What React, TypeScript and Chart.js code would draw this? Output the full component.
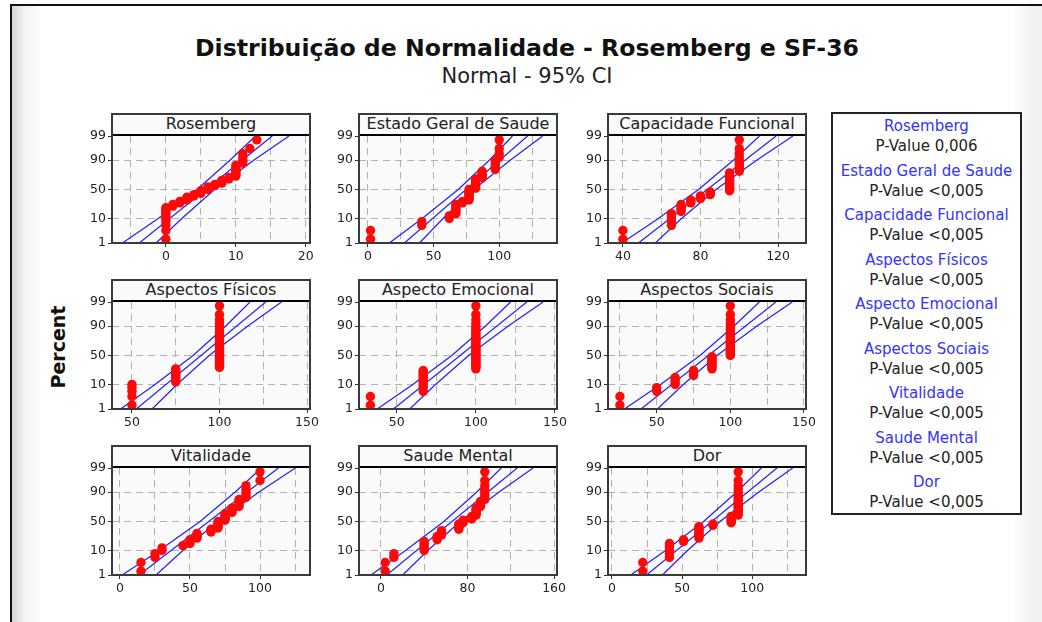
import React, { useEffect, useRef } from 'react';
import Chart from 'chart.js/auto';

// ---------- text ----------
const TITLE = 'Distribuição de Normalidade - Rosemberg e SF-36';
const SUBTITLE = 'Normal - 95% CI';
const Y_LABEL = 'Percent';
const panelTitles = ['Rosemberg', 'Estado Geral de Saude', 'Capacidade Funcional', 'Aspectos Físicos', 'Aspecto Emocional', 'Aspectos Sociais', 'Vitalidade', 'Saude Mental', 'Dor'];
const pValueTexts = ['P-Value 0,006', 'P-Value <0,005', 'P-Value <0,005', 'P-Value <0,005', 'P-Value <0,005', 'P-Value <0,005', 'P-Value <0,005', 'P-Value <0,005', 'P-Value <0,005'];

// ---------- probability axis ----------
const yTickPercents = [1, 10, 50, 90, 99];
const bandPercents = [1, 10, 50, 90, 99];
const fitPercents = [1, 99];

// ---------- samples (sorted observations, n = 45 each) ----------
const rosembergSample = [
  0, 0, 0, 0, 0, 0, 0, 0, 0, 0,
  1, 1, 2, 2, 3, 3, 3, 4, 4,
  5, 5, 5, 6, 6, 6, 7, 7, 8, 8, 8, 9, 9,
  10, 10, 10, 10, 10, 10, 10,
  11, 11, 11, 11, 12, 13,
];
const estadoGeralSample = [
  2, 2, 41, 41, 62, 62,
  67, 67, 67, 67, 67, 67,
  72, 72,
  77, 77, 77, 77, 77, 77, 77, 77, 77,
  82, 82, 82, 82, 82, 82, 82, 82,
  87, 87, 87, 87, 87,
  97, 97, 97, 97, 97,
  100, 100, 100, 100,
];
const capacidadeSample = [
  40, 40,
  65, 65, 65, 65, 65,
  70, 70, 70, 70, 70,
  75, 75, 75, 80, 80, 80, 85, 85, 85,
  95, 95, 95, 95, 95, 95, 95,
  95, 95, 95, 95, 95, 95, 95,
  100, 100, 100, 100, 100,
  100, 100, 100, 100, 100,
];
const fisicosSample = [
  50, 50, 50, 50, 50,
  75, 75, 75, 75, 75, 75, 75, 75,
  100, 100, 100, 100, 100, 100, 100, 100,
  100, 100, 100, 100, 100, 100, 100, 100,
  100, 100, 100, 100, 100, 100, 100, 100,
  100, 100, 100, 100, 100, 100, 100, 100,
];
const emocionalSample = [
  33.3, 33.3,
  66.7, 66.7, 66.7, 66.7, 66.7, 66.7, 66.7, 66.7, 66.7, 66.7,
  100, 100, 100, 100, 100, 100, 100, 100,
  100, 100, 100, 100, 100, 100, 100, 100,
  100, 100, 100, 100, 100, 100, 100, 100,
  100, 100, 100, 100, 100, 100, 100, 100,
  100,
];
const sociaisSample = [
  25, 25, 50, 50,
  62.5, 62.5, 62.5, 62.5,
  75, 75, 75, 75,
  87.5, 87.5, 87.5, 87.5, 87.5, 87.5, 87.5, 87.5, 87.5, 87.5,
  100, 100, 100, 100, 100, 100, 100, 100, 100, 100,
  100, 100, 100, 100, 100, 100, 100, 100, 100, 100,
  100, 100, 100,
];
const vitalidadeSample = [
  15, 15, 25, 25, 30, 30, 45,
  50, 50, 50, 55, 55, 55, 55,
  65, 65, 65, 70, 70, 70, 70, 70, 70,
  75, 75, 75, 75, 75, 75, 80, 80, 80, 80,
  85, 85, 85, 85, 85, 90, 90, 90, 90, 90,
  100, 100,
];
const saudeMentalSample = [
  4, 4, 12, 12,
  40, 40, 40, 40, 40,
  52, 52, 52, 56, 56, 56, 56,
  72, 72, 72, 72, 72, 76, 76, 76,
  84, 84, 84, 88, 88, 88, 88, 88, 88,
  92, 92, 92, 92,
  96, 96, 96, 96, 96, 96, 96, 96,
];
const dorSample = [
  22, 22,
  41, 41, 41, 41, 41, 41,
  51, 51,
  62, 62, 62, 62, 62, 62, 62, 62, 62,
  72, 72,
  85, 85, 85, 85, 85, 85,
  90, 90, 90, 90, 90, 90, 90, 90, 90,
  90, 90, 90, 90, 90, 90, 90, 90, 90,
];

// ---------- fitted line (x at 1% and 99%) and 95% CI bands (x at 1,10,50,90,99 %) ----------
const rosembergFit = [-3.8, 15.2];
const rosembergLo = [-6.2, -1.2, 4.45, 9.2, 12.8];
const rosembergHi = [-1.4, 2.2, 6.95, 12.6, 17.6];
const estadoGeralFit = [27.8, 121.6];
const estadoGeralLo = [16.3, 40.8, 68.8, 92.6, 110.1];
const estadoGeralHi = [39.3, 56.8, 80.6, 108.6, 133.1];
const capacidadeFit = [48, 119];
const capacidadeLo = [39.4, 57.9, 79.0, 97.1, 110.4];
const capacidadeHi = [56.7, 69.9, 88.0, 109.1, 127.7];
const fisicosFit = [52.5, 126.4];
const fisicosLo = [43.5, 62.8, 84.9, 103.6, 117.4];
const fisicosHi = [61.5, 75.4, 94.1, 116.2, 135.4];
const emocionalFit = [47.9, 132.2];
const emocionalLo = [37.6, 59.7, 84.8, 106.1, 121.9];
const emocionalHi = [58.2, 74.1, 95.4, 120.5, 142.5];
const sociaisFit = [39.3, 130.9];
const sociaisLo = [28.1, 52.1, 79.4, 102.5, 119.7];
const sociaisHi = [50.5, 67.7, 90.9, 118.1, 142.1];
const vitalidadeFit = [13.7, 113.1];
const vitalidadeLo = [1.6, 27.5, 57.2, 82.3, 101.0];
const vitalidadeHi = [25.8, 44.5, 69.7, 99.3, 125.2];
const saudeMentalFit = [5.5, 125.9];
const saudeMentalLo = [-9.2, 22.2, 58.2, 88.6, 111.2];
const saudeMentalHi = [20.2, 42.8, 73.3, 109.2, 140.6];
const dorFit = [24.7, 117.6];
const dorLo = [13.4, 37.7, 65.3, 88.9, 106.5];
const dorHi = [36.0, 53.5, 77.0, 104.7, 128.8];

// ---------- x axes ----------
const xRanges = [[-7.7, 20.6], [-6.8, 144], [32.3, 134.4], [38.6, 151.7], [26.1, 151.3], [16.9, 151.4], [-5.7, 135.7], [-20.2, 162.7], [-2.8, 138.3]];
const xGridSteps = [5, 25, 20, 25, 25, 25, 25, 40, 25];
const xTickLabels = [[0, 10, 20], [0, 50, 100], [40, 80, 120], [50, 100, 150], [50, 100, 150], [50, 100, 150], [0, 50, 100], [0, 80, 160], [0, 50, 100]];

const samples = [rosembergSample, estadoGeralSample, capacidadeSample, fisicosSample, emocionalSample, sociaisSample, vitalidadeSample, saudeMentalSample, dorSample];
const fits = [rosembergFit, estadoGeralFit, capacidadeFit, fisicosFit, emocionalFit, sociaisFit, vitalidadeFit, saudeMentalFit, dorFit];
const los = [rosembergLo, estadoGeralLo, capacidadeLo, fisicosLo, emocionalLo, sociaisLo, vitalidadeLo, saudeMentalLo, dorLo];
const his = [rosembergHi, estadoGeralHi, capacidadeHi, fisicosHi, emocionalHi, sociaisHi, vitalidadeHi, saudeMentalHi, dorHi];

// ---------- layout ----------
const FONT = '"DejaVu Sans", Verdana, sans-serif';
const COL_LEFTS = [112, 359, 608];
const ROW_TOPS = [136, 302, 468];
const PLOT_W = 198;
const PLOT_H = 107;
const HEADER_H = 22;
const Y_AXIS_W = 32;
const X_AXIS_H = 22;
const PAD_T = 10;
const PAD_R = 16;
const RED = '#ff0808';
const BLUE = '#2020ff';
const GRID = '#b2b2b2';

function probit(p: number): number {
  const a = [-3.969683028665376e+01, 2.209460984245205e+02, -2.759285104469687e+02, 1.383577518672690e+02, -3.066479806614716e+01, 2.506628277459239e+00];
  const b = [-5.447609879822406e+01, 1.615858368580409e+02, -1.556989798598866e+02, 6.680131188771972e+01, -1.328068155288572e+01];
  const c = [-7.784894002430293e-03, -3.223964580411365e-01, -2.400758277161838e+00, -2.549732539343734e+00, 4.374664141464968e+00, 2.938163982698783e+00];
  const d = [7.784695709041462e-03, 3.224671290700398e-01, 2.445134137142996e+00, 3.754408661907416e+00];
  const pl = 0.02425;
  if (p < pl) {
    const q = Math.sqrt(-2 * Math.log(p));
    return (((((c[0] * q + c[1]) * q + c[2]) * q + c[3]) * q + c[4]) * q + c[5]) / ((((d[0] * q + d[1]) * q + d[2]) * q + d[3]) * q + 1);
  }
  if (p <= 1 - pl) {
    const q = p - 0.5;
    const r = q * q;
    return (((((a[0] * r + a[1]) * r + a[2]) * r + a[3]) * r + a[4]) * r + a[5]) * q / (((((b[0] * r + b[1]) * r + b[2]) * r + b[3]) * r + b[4]) * r + 1);
  }
  const q = Math.sqrt(-2 * Math.log(1 - p));
  return -(((((c[0] * q + c[1]) * q + c[2]) * q + c[3]) * q + c[4]) * q + c[5]) / ((((d[0] * q + d[1]) * q + d[2]) * q + d[3]) * q + 1);
}

const Z_MIN = probit(0.01);
const Z_MAX = probit(0.99);

function Panel({ idx }: { idx: number }) {
  const ref = useRef<HTMLCanvasElement>(null);
  const col = idx % 3;
  const row = Math.floor(idx / 3);
  const plotLeft = COL_LEFTS[col];
  const plotTop = ROW_TOPS[row];
  const cw = Y_AXIS_W + PLOT_W + PAD_R;
  const ch = PAD_T + PLOT_H + X_AXIS_H;

  useEffect(() => {
    const sample = samples[idx];
    const n = sample.length;
    const pts = sample.map((v, i) => ({ x: v, y: probit((i + 1 - 0.3) / (n + 0.4)) }));
    const fitPts = fits[idx].map((x, i) => ({ x, y: probit(fitPercents[i] / 100) }));
    const loPts = los[idx].map((x, i) => ({ x, y: probit(bandPercents[i] / 100) }));
    const hiPts = his[idx].map((x, i) => ({ x, y: probit(bandPercents[i] / 100) }));
    const [xMin, xMax] = xRanges[idx];
    const step = xGridSteps[idx];
    const labels = xTickLabels[idx];
    const gridVals: number[] = [];
    for (let v = Math.ceil(xMin / step) * step; v <= xMax + 1e-9; v += step) gridVals.push(Math.round(v * 1000) / 1000);
    const yTickVals = yTickPercents.map((p) => probit(p / 100));

    const lineDs = (data: any[]) => ({
      data, showLine: true, fill: false, borderColor: BLUE, borderWidth: 1.2, tension: 0,
      pointRadius: 0, pointHoverRadius: 0, order: 1,
    });

    const bgPlugin = {
      id: 'plotBg',
      beforeDraw(chart: any) {
        const { ctx, chartArea } = chart;
        ctx.save();
        ctx.fillStyle = '#fafafa';
        ctx.fillRect(chartArea.left, chartArea.top, chartArea.right - chartArea.left, chartArea.bottom - chartArea.top);
        ctx.restore();
      },
    };

    const chart = new Chart(ref.current as HTMLCanvasElement, {
      type: 'scatter',
      data: {
        datasets: [
          { data: pts, showLine: false, pointRadius: 4.7, pointHoverRadius: 4.7, pointBackgroundColor: RED, pointBorderColor: RED, pointBorderWidth: 0, order: 0 } as any,
          lineDs(loPts),
          lineDs(fitPts),
          lineDs(hiPts),
        ],
      },
      options: {
        animation: false,
        responsive: false,
        maintainAspectRatio: false,
        events: [],
        layout: { padding: { top: PAD_T, right: PAD_R, left: 0, bottom: 0 } },
        plugins: { legend: { display: false }, tooltip: { enabled: false }, title: { display: false } },
        scales: {
          x: {
            type: 'linear', min: xMin, max: xMax,
            afterBuildTicks: (s: any) => { s.ticks = gridVals.map((v) => ({ value: v })); },
            afterFit: (s: any) => { s.height = X_AXIS_H; },
            ticks: {
              autoSkip: false, maxRotation: 0, minRotation: 0, padding: 2, color: '#222',
              font: { family: FONT, size: 12.5 },
              callback: (v: any) => (labels.includes(Number(v)) ? String(v) : ''),
            },
            grid: {
              color: GRID, lineWidth: 1, tickLength: 4, drawTicks: true,
              tickColor: (c: any) => (c.tick && labels.includes(c.tick.value) ? '#333' : 'rgba(0,0,0,0)'),
            },
            border: { display: false, dash: [7, 5] },
          },
          y: {
            type: 'linear', min: Z_MIN, max: Z_MAX,
            afterBuildTicks: (s: any) => { s.ticks = yTickVals.map((v) => ({ value: v })); },
            afterFit: (s: any) => { s.width = Y_AXIS_W; },
            ticks: {
              autoSkip: false, padding: 2, color: '#222',
              font: { family: FONT, size: 12.5 },
              callback: (_v: any, i: number) => String(yTickPercents[i]),
            },
            grid: {
              lineWidth: 1, tickLength: 4, drawTicks: true, tickColor: '#333',
              color: (c: any) => {
                if (!c.tick) return GRID;
                const i = yTickVals.findIndex((v) => Math.abs(v - c.tick.value) < 1e-6);
                return i === 0 || i === yTickVals.length - 1 ? 'rgba(0,0,0,0)' : GRID;
              },
            },
            border: { display: false, dash: [7, 5] },
          },
        },
      } as any,
      plugins: [bgPlugin],
    });
    return () => chart.destroy();
  }, [idx]);

  return (
    <>
      <canvas
        ref={ref}
        width={cw}
        height={ch}
        style={{ position: 'absolute', left: plotLeft - Y_AXIS_W, top: plotTop - PAD_T, width: cw, height: ch }}
      />
      <div
        style={{
          position: 'absolute', left: plotLeft, top: plotTop - HEADER_H, width: PLOT_W, height: HEADER_H,
          background: '#fafafa', boxSizing: 'border-box', borderBottom: '2px solid #000',
          textAlign: 'center', font: `16px ${FONT}`, lineHeight: `${HEADER_H - 2}px`, color: '#222', whiteSpace: 'nowrap',
        }}
      >
        {panelTitles[idx]}
      </div>
      <div
        style={{
          position: 'absolute', left: plotLeft - 1, top: plotTop - HEADER_H - 1, width: PLOT_W + 2,
          height: HEADER_H + PLOT_H + 2, boxSizing: 'border-box', border: '2px solid #3a3a3a', pointerEvents: 'none',
        }}
      />
    </>
  );
}

export default function App() {
  return (
    <div style={{ position: 'absolute', left: 0, top: 0, width: 1042, height: 622, overflow: 'hidden', background: '#fff', fontFamily: FONT }}>
      <div
        style={{
          position: 'absolute', left: 10, top: 4, width: 1040, height: 630, boxSizing: 'border-box',
          borderLeft: '2px solid #111', borderTop: '2px solid #111',
          background: 'linear-gradient(to right, #d6d6d6 0px, #f4f4f4 14px, #ffffff 30px, #ffffff 1000px, #f2f2f2 1020px)',
        }}
      />
      <div style={{ position: 'absolute', left: 127, width: 800, top: 34, textAlign: 'center', font: `bold 23.6px ${FONT}`, lineHeight: '28px', color: '#111', whiteSpace: 'nowrap' }}>
        {TITLE}
      </div>
      <div style={{ position: 'absolute', left: 327, width: 400, top: 64, textAlign: 'center', font: `21px ${FONT}`, lineHeight: '24px', color: '#222', whiteSpace: 'nowrap' }}>
        {SUBTITLE}
      </div>
      <div
        style={{
          position: 'absolute', left: 58 - 60, top: 347 - 12, width: 120, height: 24, textAlign: 'center',
          font: `bold 19px ${FONT}`, lineHeight: '24px', color: '#111', transform: 'rotate(-90deg)',
        }}
      >
        {Y_LABEL}
      </div>
      {panelTitles.map((_, i) => (
        <Panel key={i} idx={i} />
      ))}
      <div
        style={{
          position: 'absolute', left: 831, top: 112, width: 191, height: 403, boxSizing: 'border-box',
          border: '2px solid #222', background: '#fff', paddingTop: 2,
        }}
      >
        {panelTitles.map((t, i) => (
          <div key={i} style={{ textAlign: 'center', marginBottom: 4.5, whiteSpace: 'nowrap' }}>
            <div style={{ font: `15px ${FONT}`, lineHeight: '20px', color: '#3333ff' }}>{t}</div>
            <div style={{ font: `15px ${FONT}`, lineHeight: '20px', color: '#222' }}>{pValueTexts[i]}</div>
          </div>
        ))}
      </div>
    </div>
  );
}
